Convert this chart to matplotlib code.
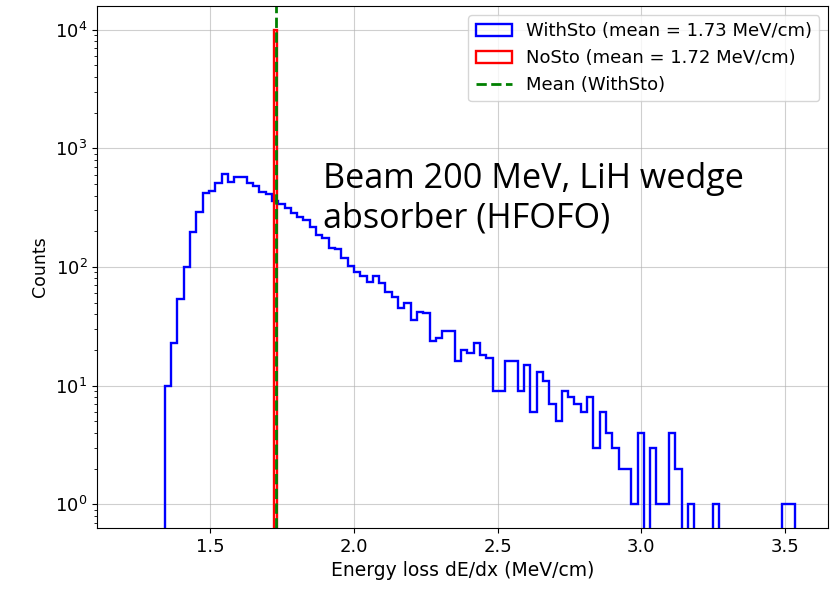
import numpy as np
import matplotlib
matplotlib.use("Agg")
import matplotlib.pyplot as plt

# dE/dx histogram with stochastic energy loss (counts per bin)
withsto_lo, withsto_hi = 1.341, 3.536
withsto_counts = [
    10, 23, 54, 99, 199, 293, 424, 440, 512, 609,
    525, 571, 571, 512, 480, 432, 410, 362, 342, 312,
    285, 262, 250, 216, 185, 175, 144, 141, 118, 101,
    90, 84, 75, 84, 73, 62, 56, 45, 50, 36,
    42, 41, 24, 25, 29, 29, 16, 20, 19, 23,
    18, 17, 9, 9, 16, 16, 9, 15, 6, 13,
    11, 7, 5, 9, 8, 7, 6, 8, 3, 6,
    4, 3, 2, 2, 1, 4, 0, 3, 1, 1,
    4, 2, 0, 1, 0, 0, 0, 1, 0, 0,
    0, 0, 0, 0, 0, 0, 0, 0, 1, 1,
]
withsto_mean = 1.727

# without stochastic loss every track has the same dE/dx
nosto_value = 1.721
nosto_events = 10000

edges = np.linspace(withsto_lo, withsto_hi, len(withsto_counts) + 1)
centers = 0.5 * (edges[:-1] + edges[1:])

plt.rcParams.update({"font.size": 13})
fig = plt.figure(figsize=(8.3, 5.9), dpi=100)
ax = fig.add_axes([0.117, 0.105, 0.881, 0.885])

ax.hist(centers, bins=edges, weights=withsto_counts, histtype="step",
        color="blue", lw=1.7, log=True,
        label=f"WithSto (mean = {withsto_mean:.2f} MeV/cm)")
ax.hist([nosto_value], bins=100, weights=[nosto_events], histtype="step",
        color="red", lw=1.7, log=True,
        label=f"NoSto (mean = {nosto_value:.2f} MeV/cm)")
ax.axvline(withsto_mean, color="green", ls="--", lw=2, label="Mean (WithSto)")

ax.set_xlabel("Energy loss dE/dx (MeV/cm)", fontsize=13.5)
ax.set_ylabel("Counts", fontsize=12.5)
ax.grid(True, alpha=0.6)
ax.legend(loc="upper right")

ax.text(0.309, 0.63, "Beam 200 MeV, LiH wedge\nabsorber (HFOFO)",
        transform=ax.transAxes, fontsize=24.6, family="Open Sans",
        ha="left", va="center", linespacing=1.2)

fig.savefig("out.png", dpi=100)
